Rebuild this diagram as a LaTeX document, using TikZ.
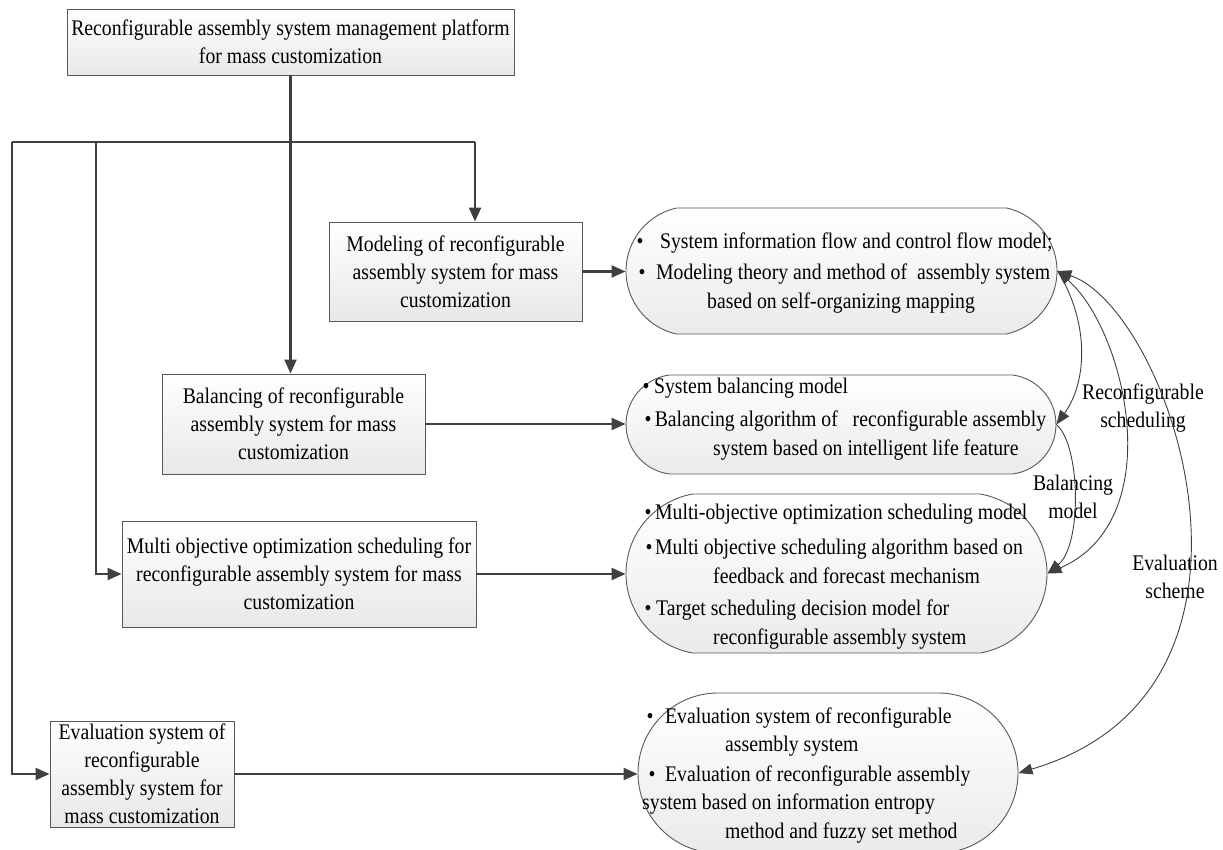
\documentclass[tikz,border=0pt]{standalone}
\usepackage{fontspec}
\setmainfont{Liberation Serif}[FakeStretch=0.885]
\usetikzlibrary{arrows.meta,shapes.misc}
\newcommand{\bul}[1]{\textbullet\hspace{#1pt}}
\begin{document}
\begin{tikzpicture}[x=1pt,y=-1pt,
  every node/.style={font=\fontsize{22.3}{28}\selectfont, inner sep=0pt},
  box/.style={draw=black!65, line width=0.9pt, top color=white, bottom color=black!9, align=center},
  pill/.style n args={3}{draw=black!65, line width=0.9pt, top color=white, bottom color=black!8,
     rounded rectangle, rounded rectangle arc length=#3, minimum width=#1pt, minimum height=#2pt},
  conn/.style={draw=black!75, line width=2.2pt, -{Triangle[length=14pt,width=12pt]}},
  plainline/.style={draw=black!75, line width=2.2pt},
  crv/.style={draw=black!75, line width=0.9pt, -{Triangle[length=14pt,width=11pt]}},
  crvb/.style={draw=black!75, line width=0.9pt, {Triangle[length=14pt,width=11pt]}-{Triangle[length=14pt,width=11pt]}},
  ln/.style={anchor=base west},
  lab/.style={align=center}
]
\useasboundingbox (0,0) rectangle (1223,850);

% left boxes
\node[box, minimum width=447pt, minimum height=66pt] (top) at (290.5,42)
  {Reconfigurable assembly system management platform\\for mass customization};
\node[box, minimum width=253pt, minimum height=99pt] (mod) at (455.5,271.5)
  {Modeling of reconfigurable\\assembly system for mass\\customization};
\node[box, minimum width=263pt, minimum height=100pt] (bal) at (293.5,424)
  {Balancing of reconfigurable\\assembly system for mass\\customization};
\node[box, minimum width=354pt, minimum height=106pt] (mul) at (299,574)
  {Multi objective optimization scheduling for\\reconfigurable assembly system for mass\\customization};
\node[box, minimum width=184pt, minimum height=106pt] (eva) at (142,774)
  {Evaluation system of\\reconfigurable\\assembly system for\\mass customization};

% right pills
\node[pill={431}{126}{155}] (e1) at (841.5,271) {};
\node[pill={430}{99}{165}] (e2) at (841,424.5) {};
\node[pill={421}{159}{160}] (e3) at (836.5,573.5) {};
\node[pill={380}{160}{178}] (e4) at (828,773) {};

% pill texts
\node[ln] (e1a) at (636.5,248.5) {\bul{16.5}System information flow and control flow model;};
\node[ln] (e1b) at (638.5,279.5) {\bul{10.5}Modeling theory and method of\ \ assembly system};
\node[ln] (e1c) at (707,308.5) {based on self-organizing mapping};

\node[ln] (e2a) at (642.5,393.5) {\bul{4.5}System balancing model};
\node[ln] (e2b) at (644.5,426.5) {\bul{3.2}Balancing algorithm of\ \ \ reconfigurable assembly};
\node[ln] (e2c) at (713,455.5) {system based on intelligent life feature};

\node[ln] (e3a) at (644.5,519) {\bul{3.5}Multi-objective optimization scheduling model};
\node[ln] (e3b) at (645.5,554) {\bul{2.5}Multi objective scheduling algorithm based on};
\node[ln] (e3c) at (713,583) {feedback and forecast mechanism};
\node[ln] (e3d) at (644.5,615) {\bul{4.5}Target scheduling decision model for};
\node[ln] (e3e) at (713,644) {reconfigurable assembly system};

\node[ln] (e4a) at (646.5,723.5) {\bul{11.5}Evaluation system of reconfigurable};
\node[ln] (e4b) at (725,751.5) {assembly system};
\node[ln] (e4c) at (648.5,781.5) {\bul{9.5}Evaluation of reconfigurable assembly};
\node[ln] (e4d) at (642,809.5) {system based on information entropy};
\node[ln] (e4e) at (725,838.5) {method and fuzzy set method};

% curve labels
\node[lab] (lab1) at (1143,408) {Reconfigurable\\scheduling};
\node[lab] (lab2) at (1073,497) {Balancing\\model};
\node[lab] (lab3) at (1175,577) {Evaluation\\scheme};

% tree connectors
\coordinate (jl) at (12,142);
\coordinate (j2) at (96,142);
\coordinate (jr) at (475,142);
\draw[conn] (top.south) -- (top.south |- bal.north);
\draw[plainline] (jl) -- (jr);
\draw[conn] (jr) -- (jr |- mod.north);
\draw[conn] (jl) |- (eva.west);
\draw[conn] (j2) |- (mul.west);

% horizontal arrows to pills
\draw[conn] (mod.east) -- (mod.east -| e1.west);
\draw[conn] (bal.east) -- (bal.east -| e2.west);
\draw[conn] (mul.east) -- (mul.east -| e3.west);
\draw[conn] (eva.east) -- (eva.east -| e4.west);

% curves on the right
\draw[crv] (e1.east) .. controls +(31,49) and +(32,-44.5) .. (e2.east);
\draw[crv] (e2.east) .. controls +(24,20.5) and +(35,-28.5) .. (e3.east);
\draw[crvb] (e3.east) .. controls +(123,-53.5) and +(68,59) .. (e1.east);
\draw[crvb] (e4.east) .. controls +(282,-83) and +(113,39) .. (e1.east);
\end{tikzpicture}
\end{document}
